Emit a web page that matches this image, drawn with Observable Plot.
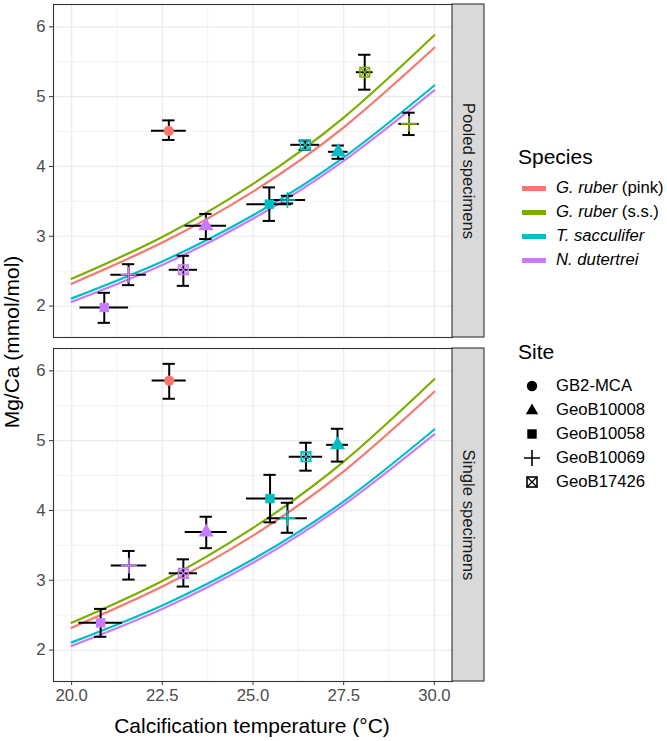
<!DOCTYPE html>
<html>
<head>
<meta charset="utf-8">
<script src="https://cdn.jsdelivr.net/npm/d3@7"></script>
<script src="https://cdn.jsdelivr.net/npm/@observablehq/plot@0.6"></script>
<style>
  body { margin: 0; background: #fff; font-family: "Liberation Sans", Arial, sans-serif; }
  #wrap { position: relative; width: 667px; height: 741px; }
  .lg { position: absolute; white-space: nowrap; line-height: 24px; color: #000; }
  .lg-title { font-size: 21px; }
  .lg-item { font-size: 16.7px; }
  .lg-key { position: absolute; }
</style>
</head>
<body>
<div id="wrap"></div>
<script>
// ---------- data ----------
const panels = ["Pooled specimens", "Single specimens"];
const speciesNames = ["G. ruber (pink)", "G. ruber (s.s.)", "T. sacculifer", "N. dutertrei"];
const speciesColors = ["#F8766D", "#7CAE00", "#00BFC4", "#C77CFF"];
const siteNames = ["GB2-MCA", "GeoB10008", "GeoB10058", "GeoB10069", "GeoB17426"];
const xTicks = [20, 22.5, 25, 27.5, 30];
const xMinorTicks = [21.25, 23.75, 26.25, 28.75];
const yTicks = [2, 3, 4, 5, 6];
const yMinorTicks = [2.5, 3.5, 4.5, 5.5];

// Pooled specimens
const pooledSpecies = ["G. ruber (pink)", "G. ruber (s.s.)", "G. ruber (s.s.)", "T. sacculifer", "T. sacculifer", "T. sacculifer", "T. sacculifer", "N. dutertrei", "N. dutertrei", "N. dutertrei", "N. dutertrei"];
const pooledSite = ["GB2-MCA", "GeoB17426", "GeoB10069", "GeoB17426", "GeoB10008", "GeoB10058", "GeoB10069", "GeoB10008", "GeoB17426", "GeoB10069", "GeoB10058"];
const pooledTemp = [22.68, 28.08, 29.30, 26.44, 27.35, 25.45, 25.95, 23.70, 23.08, 21.57, 20.90];
const pooledTempErr = [0.48, 0.23, 0.28, 0.40, 0.27, 0.62, 0.50, 0.57, 0.39, 0.49, 0.67];
const pooledMgCa = [4.51, 5.35, 4.61, 4.31, 4.21, 3.46, 3.52, 3.15, 2.52, 2.45, 1.98];
const pooledMgCaLow = [4.38, 5.10, 4.45, 4.24, 4.11, 3.22, 3.47, 2.96, 2.29, 2.30, 1.76];
const pooledMgCaHigh = [4.66, 5.60, 4.77, 4.37, 4.30, 3.70, 3.58, 3.32, 2.72, 2.60, 2.19];

// Single specimens
const singleSpecies = ["G. ruber (pink)", "T. sacculifer", "T. sacculifer", "T. sacculifer", "T. sacculifer", "N. dutertrei", "N. dutertrei", "N. dutertrei", "N. dutertrei"];
const singleSite = ["GB2-MCA", "GeoB17426", "GeoB10008", "GeoB10058", "GeoB10069", "GeoB10008", "GeoB10069", "GeoB17426", "GeoB10058"];
const singleTemp = [22.69, 26.46, 27.33, 25.47, 25.95, 23.71, 21.58, 23.08, 20.80];
const singleTempErr = [0.47, 0.46, 0.30, 0.65, 0.55, 0.58, 0.49, 0.39, 0.60];
const singleMgCa = [5.86, 4.77, 4.94, 4.17, 3.89, 3.69, 3.21, 3.10, 2.39];
const singleMgCaLow = [5.60, 4.57, 4.70, 3.83, 3.68, 3.46, 3.01, 2.91, 2.19];
const singleMgCaHigh = [6.10, 4.97, 5.17, 4.51, 4.11, 3.91, 3.42, 3.30, 2.59];

// Calibration curves
const curveTemps = [20, 22.5, 25, 27.5, 30];
const curvePink = [2.32, 2.91, 3.64, 4.56, 5.70];
const curveSS = [2.39, 2.99, 3.75, 4.70, 5.88];
const curveSacc = [2.11, 2.64, 3.30, 4.13, 5.16];
const curveDut = [2.06, 2.59, 3.25, 4.08, 5.09];

// ---------- tables ----------
function makeRows(panel, sp, site, t, te, m, lo, hi) {
  return sp.map((s, i) => ({panel, species: s, site: site[i], T: t[i], Tlo: t[i] - te[i], Thi: t[i] + te[i], mg: m[i], lo: lo[i], hi: hi[i]}));
}
const points = [
  ...makeRows(panels[0], pooledSpecies, pooledSite, pooledTemp, pooledTempErr, pooledMgCa, pooledMgCaLow, pooledMgCaHigh),
  ...makeRows(panels[1], singleSpecies, singleSite, singleTemp, singleTempErr, singleMgCa, singleMgCaLow, singleMgCaHigh)
];
const curveSeries = [curvePink, curveSS, curveSacc, curveDut];
const curves = speciesNames.flatMap((s, k) => curveTemps.map((t, i) => ({species: s, T: t, mg: curveSeries[k][i]})));

const capHalf = 0.17;
const bySite = s => points.filter(d => d.site === s);

const font = "Liberation Sans, Arial, sans-serif";
const plot = Plot.plot({
  width: 667, height: 741,
  marginLeft: 53, marginRight: 215, marginTop: 3, marginBottom: 60,
  style: {fontFamily: font, fontSize: "16.7px", background: "#fff", overflow: "visible"},
  x: {domain: [19.5, 30.5], label: null},
  y: {domain: [1.55, 6.32], label: null},
  fy: {domain: panels, paddingInner: 0.032, paddingOuter: 0, axis: null, label: null},
  color: {domain: speciesNames, range: speciesColors},
  marks: [
    Plot.gridX(xMinorTicks, {stroke: "#ebebeb", strokeOpacity: 1, strokeWidth: 0.6}),
    Plot.gridY(yMinorTicks, {stroke: "#ebebeb", strokeOpacity: 1, strokeWidth: 0.6}),
    Plot.gridX(xTicks, {stroke: "#ebebeb", strokeOpacity: 1, strokeWidth: 1.2}),
    Plot.gridY(yTicks, {stroke: "#ebebeb", strokeOpacity: 1, strokeWidth: 1.2}),
    Plot.line(curves, {x: "T", y: "mg", z: "species", stroke: "species", curve: "natural", strokeWidth: 2.2}),
    // error bars
    Plot.ruleX(points, {x: "T", y1: "lo", y2: "hi", fy: "panel", stroke: "black", strokeWidth: 2}),
    Plot.ruleY(points, {y: "lo", x1: d => d.T - capHalf, x2: d => d.T + capHalf, fy: "panel", stroke: "black", strokeWidth: 2}),
    Plot.ruleY(points, {y: "hi", x1: d => d.T - capHalf, x2: d => d.T + capHalf, fy: "panel", stroke: "black", strokeWidth: 2}),
    Plot.ruleY(points, {y: "mg", x1: "Tlo", x2: "Thi", fy: "panel", stroke: "black", strokeWidth: 2}),
    // points
    Plot.dot(bySite("GB2-MCA"), {x: "T", y: "mg", fy: "panel", symbol: "circle", r: 5.2, fill: "species", stroke: "none"}),
    Plot.dot(bySite("GeoB10008"), {x: "T", y: "mg", fy: "panel", symbol: "triangle", r: 5.6, fill: "species", stroke: "none"}),
    Plot.dot(bySite("GeoB10058"), {x: "T", y: "mg", fy: "panel", symbol: "square", r: 5.3, fill: "species", stroke: "none"}),
    Plot.dot(bySite("GeoB10069"), {x: "T", y: "mg", fy: "panel", symbol: "plus", r: 5.2, fill: "none", stroke: "species", strokeWidth: 1.6}),
    Plot.dot(bySite("GeoB17426"), {x: "T", y: "mg", fy: "panel", symbol: "square", r: 5.4, fill: "none", stroke: "species", strokeWidth: 1.6}),
    Plot.dot(bySite("GeoB17426"), {x: "T", y: "mg", fy: "panel", symbol: "times", r: 4.3, fill: "none", stroke: "species", strokeWidth: 1.3}),
    // panel frame and strips
    Plot.frame({stroke: "#333", strokeWidth: 1.1}),
    Plot.rect(panels, {fy: d => d, fill: "#d9d9d9", stroke: "#333", strokeWidth: 1.1, insetLeft: 399, insetRight: -32}),
    Plot.text(panels, {fy: d => d, text: d => d, frameAnchor: "right", textAnchor: "middle", dx: 16, rotate: 90, fontSize: 16.7, fill: "#1a1a1a"}),
    // axes
    Plot.axisX({ticks: xTicks, tickFormat: d3.format(".1f"), tickSize: 4, tickPadding: 4, stroke: "#333", fill: "#4d4d4d", label: null}),
    Plot.axisY({ticks: yTicks, tickFormat: d3.format("d"), tickSize: 4, tickPadding: 4, stroke: "#333", fill: "#4d4d4d", label: null})
  ]
});

const wrap = document.getElementById("wrap");
wrap.appendChild(plot);

// axis titles
const svg = d3.select(plot);
svg.append("text").attr("x", 252).attr("y", 727).attr("text-anchor", "middle").attr("dominant-baseline", "middle")
  .attr("font-size", 21).attr("fill", "#000").attr("font-family", font).text("Calcification temperature (°C)");
svg.append("text").attr("transform", "translate(13,342) rotate(-90)").attr("text-anchor", "middle").attr("dominant-baseline", "middle")
  .attr("font-size", 21).attr("fill", "#000").attr("font-family", font).text("Mg/Ca (mmol/mol)");

// ---------- legend ----------
function addDiv(cls, left, centerY, html) {
  const d = document.createElement("div");
  d.className = "lg " + cls;
  d.style.left = left + "px";
  d.style.top = (centerY - 12) + "px";
  d.innerHTML = html;
  wrap.appendChild(d);
  return d;
}
const speciesLabelHtml = [
  "<i>G. ruber</i> (pink)",
  "<i>G. ruber</i> (s.s.)",
  "<i>T. sacculifer</i>",
  "<i>N. dutertrei</i>"
];
addDiv("lg-title", 518, 157, "Species");
const speciesY = [188, 212, 236, 260];
speciesNames.forEach((s, i) => {
  const key = document.createElement("div");
  key.className = "lg-key";
  key.style.left = "522px"; key.style.top = (speciesY[i] - 2.5) + "px";
  key.style.width = "24px"; key.style.height = "5px";
  key.style.background = speciesColors[i];
  wrap.appendChild(key);
  addDiv("lg-item", 556, speciesY[i], speciesLabelHtml[i]);
});

addDiv("lg-title", 518, 352, "Site");
const siteY = [386, 410, 434, 458, 482];
const siteSymbols = [
  '<circle cx="10" cy="10" r="5.2" fill="#000"/>',
  '<path d="M10,3.6 L16.2,14.2 L3.8,14.2 Z" fill="#000"/>',
  '<rect x="5.3" y="5.3" width="9.4" height="9.4" fill="#000"/>',
  '<path d="M2,10 H18 M10,2 V18" stroke="#000" stroke-width="1.6" fill="none"/>',
  '<rect x="5" y="5" width="10" height="10" stroke="#000" stroke-width="1.6" fill="none"/><path d="M5,5 L15,15 M15,5 L5,15" stroke="#000" stroke-width="1.3"/>'
];
siteNames.forEach((s, i) => {
  const k = document.createElementNS("http://www.w3.org/2000/svg", "svg");
  k.setAttribute("width", 20); k.setAttribute("height", 20);
  k.setAttribute("class", "lg-key");
  k.style.left = "522px"; k.style.top = (siteY[i] - 10) + "px";
  k.innerHTML = siteSymbols[i];
  wrap.appendChild(k);
  addDiv("lg-item", 556, siteY[i], s);
});
</script>
</body>
</html>
